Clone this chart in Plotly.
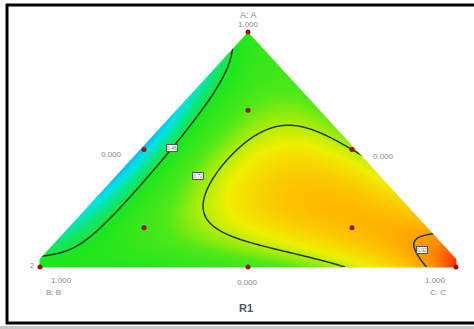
import numpy as np
import plotly.graph_objects as go

# ---- data (mixture model) ----
components = ["A", "B", "C"]
linear_coef = [0.52, 0.50, 1.00]          # pure blends A, B, C
pair_coef = [-0.84, -0.16, -0.75]         # AB, AC, BC
cubic_coef = [9.0]                        # ABC
contour_levels = [0.46, 0.72, 0.915]
contour_label_text = ["0.46", "0.72", "0.92"]

# design points (A, B, C fractions)
design_a = [1.0, 0.0, 0.0, 0.5, 0.5, 0.0, 2/3, 1/6, 1/6]
design_b = [0.0, 1.0, 0.0, 0.5, 0.0, 0.5, 1/6, 2/3, 1/6]
design_c = [0.0, 0.0, 1.0, 0.0, 0.5, 0.5, 1/6, 1/6, 2/3]

vertex_value_text = ["1.000", "1.000", "1.000"]
edge_value_text = ["0.000", "0.000", "0.000"]
vertex_names = ["A: A", "B: B", "C: C"]
response_name = "R1"

# ---- geometry: B=(0,0), C=(1,0), A=(0.5,1) ----
def to_xy(a, b, c):
    a = np.asarray(a); c = np.asarray(c)
    return c + a / 2.0, a

def model(a, b, c):
    return (linear_coef[0] * a + linear_coef[1] * b + linear_coef[2] * c
            + pair_coef[0] * a * b + pair_coef[1] * a * c + pair_coef[2] * b * c
            + cubic_coef[0] * a * b * c)

W, H = 474, 329
px_B, px_C, px_base, px_top = 40, 456, 267, 32
sx = px_C - px_B
sy = px_base - px_top
x_range = [(0 - px_B) / sx, (W - px_B) / sx]
y_range = [(px_base - H) / sy, (px_base - 0) / sy]

gx = np.linspace(0, 1, 420)
gy = np.linspace(0, 1, 240)
X, Y = np.meshgrid(gx, gy)
A = Y
C = X - Y / 2.0
B = 1 - A - C
Z = model(A, B, C)

colorscale = [
    [0.0, "#00b0f0"],
    [0.1, "#00e5e5"],
    [0.3, "#1ee61e"],
    [0.5, "#50e818"],
    [0.7, "#f0f000"],
    [0.84, "#ffbc00"],
    [0.92, "#ff8a00"],
    [1.0, "#ff2a00"],
]

fig = go.Figure()
fig.add_trace(go.Heatmap(x=gx, y=gy, z=Z, colorscale=colorscale, zmin=0.25, zmax=1.0,
                         showscale=False, hoverinfo="skip", zsmooth="best"))
for lv in contour_levels:
    fig.add_trace(go.Contour(x=gx, y=gy, z=Z, autocontour=False,
                             contours=dict(start=lv, end=lv, size=1, coloring="none"),
                             line=dict(color="#1f3a1f", width=1.5),
                             showscale=False, hoverinfo="skip"))

# white masks outside the triangle
fig.add_trace(go.Scatter(x=[-0.02, 0.5, 0.5, -0.02, -0.02], y=[-0.003, 1.0, 1.05, 1.05, -0.003],
                         fill="toself", fillcolor="white", line=dict(width=0), mode="lines",
                         hoverinfo="skip"))
fig.add_trace(go.Scatter(x=[1.02, 0.5, 0.5, 1.02, 1.02], y=[-0.003, 1.0, 1.05, 1.05, -0.003],
                         fill="toself", fillcolor="white", line=dict(width=0), mode="lines",
                         hoverinfo="skip"))

# design points
dx, dy = to_xy(design_a, design_b, design_c)
fig.add_trace(go.Scatter(x=dx, y=dy, mode="markers",
                         marker=dict(size=5, color="#9a1010"), hoverinfo="skip"))

# contour labels
label_pos = [(172, 148), (198, 176), (422, 250)]
for (px, py), t in zip(label_pos, contour_label_text):
    fig.add_annotation(x=(px - px_B) / sx, y=(px_base - py) / sy, text=t, showarrow=False,
                       font=dict(size=5, color="#777", family="Liberation Sans"),
                       bgcolor="white", bordercolor="#555", borderwidth=1, borderpad=0)

def ann(px, py, text, size=8, color="#8a8a8a", bold=False):
    fig.add_annotation(x=(px - px_B) / sx, y=(px_base - py) / sy,
                       text=f"<b>{text}</b>" if bold else text, showarrow=False,
                       font=dict(size=size, color=color, family="Liberation Sans"))

# vertex and axis labels
ann(248, 15, vertex_names[0], size=9)
ann(248, 24, vertex_value_text[0], size=8)
ann(61, 280, vertex_value_text[1])
ann(53, 292, vertex_names[1])
ann(435, 280, vertex_value_text[2])
ann(438, 292, vertex_names[2])
ann(111, 154, edge_value_text[0])
ann(383, 156, edge_value_text[1])
ann(247, 282, edge_value_text[2])
ann(32, 265, "2", size=7)
ann(246, 308, response_name, size=11, color="#555", bold=True)

# outer frame (top, left, bottom) and shadow strip
def pline(x0, y0, x1, y1):
    fig.add_shape(type="line", xref="paper", yref="paper",
                  x0=x0 / W, x1=x1 / W, y0=1 - y0 / H, y1=1 - y1 / H,
                  line=dict(color="black", width=3))
pline(6, 5, W, 5)
pline(7, 4, 7, 324)
pline(6, 323, W, 323)
fig.add_shape(type="rect", xref="paper", yref="paper",
              x0=0, x1=1, y0=0, y1=1 - 326 / H, line=dict(width=0), fillcolor="#c8c8c8")

fig.update_layout(width=W, height=H, margin=dict(l=0, r=0, t=0, b=0),
                  paper_bgcolor="white", plot_bgcolor="white", showlegend=False,
                  xaxis=dict(range=x_range, visible=False, fixedrange=True),
                  yaxis=dict(range=y_range, visible=False, fixedrange=True))
fig.write_html("out.html", config={"displayModeBar": False},
               post_script="document.body.style.margin='0px';document.body.style.overflow='hidden';")
